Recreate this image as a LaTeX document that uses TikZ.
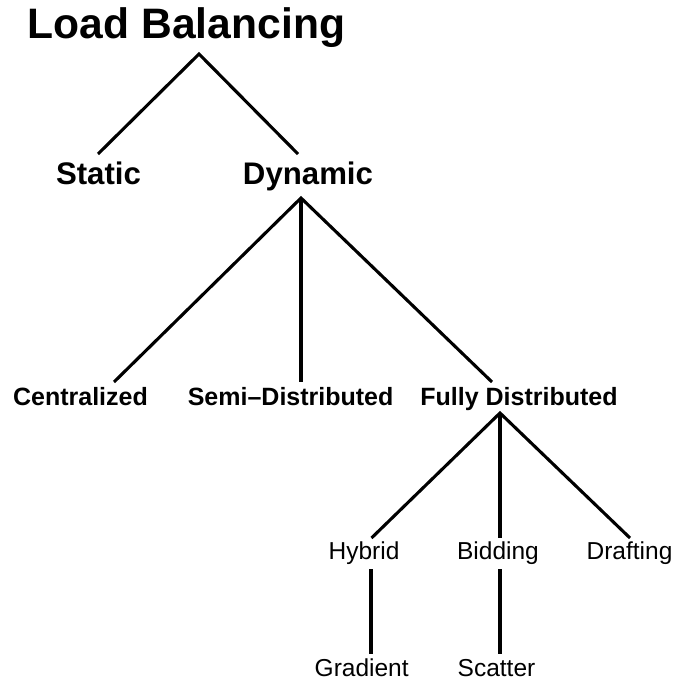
\documentclass[tikz,border=0pt]{standalone}
\usepackage{fontspec}
\setmainfont{Liberation Sans}
\begin{document}
\begin{tikzpicture}[x=1pt,y=-1pt,
  lbl/.style={inner sep=0pt,anchor=base},
  ttl/.style={lbl,font=\fontsize{42.6}{44}\selectfont\bfseries},
  lvone/.style={lbl,font=\fontsize{31.2}{33}\selectfont\bfseries},
  lvtwo/.style={lbl,font=\fontsize{25}{27}\selectfont\bfseries},
  lvthree/.style={lbl,font=\fontsize{24.5}{26}\selectfont},
  edge/.style={draw=black,line width=3.1pt}]
\useasboundingbox (0,0) rectangle (674,680);
% nodes
\node[ttl] (lb) at (186.5,38.5) {Load Balancing};
\node[lvone] (st) at (98.5,184.5) {Static};
\node[lvone] (dy) at (308,184.5) {Dynamic};
\node[lvtwo] (ce) at (80.5,405) {Centralized};
\node[lvtwo] (sd) at (290.6,405) {Semi\textendash Distributed};
\node[lvtwo] (fd) at (519,405) {Fully Distributed};
\node[lvthree] (hy) at (364,559) {Hybrid};
\node[lvthree] (bi) at (498,559) {Bidding};
\node[lvthree] (dr) at (629.5,559) {Drafting};
\node[lvthree] (gr) at (361.7,676) {Gradient};
\node[lvthree] (sc) at (496.5,676) {Scatter};
% connector ends
\coordinate (lbB) at (199,54);
\coordinate (stT) at (98,154);
\coordinate (dyT) at (298,154);
\coordinate (dyB) at (301,198);
\coordinate (ceT) at (114,382);
\coordinate (sdT) at (301,382);
\coordinate (fdT) at (492,382);
\coordinate (fdB) at (500,413);
\coordinate (hyT) at (371.5,538);
\coordinate (biT) at (500,538);
\coordinate (drT) at (630,538);
\coordinate (hyB) at (371,569);
\coordinate (grT) at (371,654);
\coordinate (biB) at (500,569);
\coordinate (scT) at (500,654);
% connectors
\draw[edge] (stT) -- (lbB) -- (dyT);
\draw[edge] (ceT) -- (dyB) -- (fdT);
\draw[edge] (dyB) -- (sdT);
\draw[edge] (hyT) -- (fdB) -- (drT);
\draw[edge] (fdB) -- (biT);
\draw[edge] (hyB) -- (grT);
\draw[edge] (biB) -- (scT);
\end{tikzpicture}
\end{document}
